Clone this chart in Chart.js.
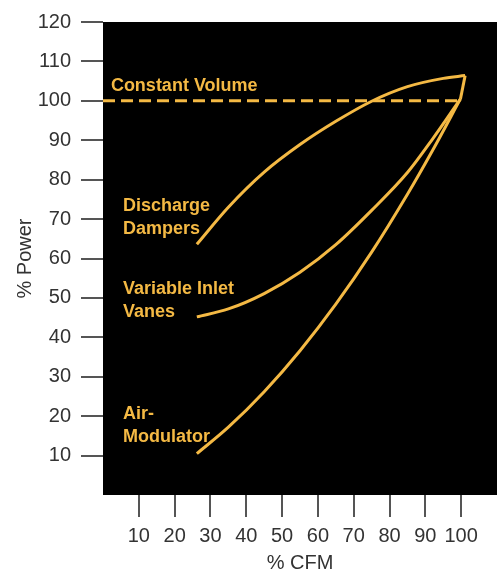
<!DOCTYPE html>
<html>
<head>
<meta charset="utf-8">
<script src="https://cdn.jsdelivr.net/npm/chart.js@4/dist/chart.umd.min.js"></script>
<style>
  html, body { margin: 0; padding: 0; background: #fff; }
  #wrap { width: 503px; height: 573px; }
</style>
</head>
<body>
<div id="wrap"><canvas id="chart" width="503" height="573"></canvas></div>
<script>
// Axis ticks
const cfmTicks = [10, 20, 30, 40, 50, 60, 70, 80, 90, 100];
const powerTicks = [10, 20, 30, 40, 50, 60, 70, 80, 90, 100, 110, 120];

// Constant volume (dashed)
const constantCfm = [0, 100.5];
const constantPower = [100, 100];

// Discharge dampers (curve, then short drop to the meeting point)
const dischargeCfm = [26.2, 35, 45, 55, 65, 75, 85, 95, 101.1];
const dischargePower = [63.6, 73.0, 81.9, 88.9, 94.8, 99.9, 103.6, 105.7, 106.4];
const dischargeDropCfm = [101.1, 99.8];
const dischargeDropPower = [106.4, 100.5];

// Variable inlet vanes
const vanesCfm = [26.2, 35, 45, 55, 65, 75, 85, 92, 99.8];
const vanesPower = [45.2, 47.2, 51.1, 56.5, 63.5, 72.2, 81.8, 90.3, 100.5];

// Air-modulator
const airCfm = [26.2, 35, 45, 55, 65, 75, 85, 92, 99.8];
const airPower = [10.5, 17.2, 26.2, 36.6, 48.4, 61.6, 76.3, 87.4, 100.5];

const gold = "#F4B944";
const toPts = (xs, ys) => xs.map((x, i) => ({ x: x, y: ys[i] }));

// Curve labels: left edge / first baseline in data units
const curveLabels = [
  { lines: ["Constant Volume"], x: 2.2, y: 102.4 },
  { lines: ["Discharge", "Dampers"], x: 5.6, y: 72.1 },
  { lines: ["Variable Inlet", "Vanes"], x: 5.6, y: 51.0 },
  { lines: ["Air-", "Modulator"], x: 5.6, y: 19.3 },
];

const blackArea = {
  id: "blackArea",
  beforeDatasetsDraw(chart) {
    const { ctx, chartArea: a } = chart;
    ctx.save();
    ctx.fillStyle = "#000";
    ctx.fillRect(a.left, a.top, a.right - a.left, a.bottom - a.top);
    ctx.restore();
  },
};

const labelPlugin = {
  id: "curveLabels",
  afterDatasetsDraw(chart) {
    const { ctx, scales } = chart;
    ctx.save();
    ctx.fillStyle = gold;
    ctx.font = "bold 18px 'Liberation Sans', Arial, sans-serif";
    ctx.textBaseline = "alphabetic";
    ctx.textAlign = "left";
    curveLabels.forEach((l) => {
      const px = scales.x.getPixelForValue(l.x);
      const py = scales.y.getPixelForValue(l.y);
      l.lines.forEach((t, i) => ctx.fillText(t, px, py + i * 23));
    });
    ctx.restore();
  },
};

const lineStyle = {
  showLine: true,
  borderColor: gold,
  borderWidth: 3,
  pointRadius: 0,
  fill: false,
  cubicInterpolationMode: "monotone",
};

new Chart(document.getElementById("chart"), {
  type: "scatter",
  data: {
    datasets: [
      { ...lineStyle, label: "Constant Volume", data: toPts(constantCfm, constantPower), cubicInterpolationMode: "default", tension: 0, borderDash: [12, 6] },
      { ...lineStyle, label: "Discharge Dampers", data: toPts(dischargeCfm, dischargePower) },
      { ...lineStyle, label: "Discharge Dampers drop", data: toPts(dischargeDropCfm, dischargeDropPower), cubicInterpolationMode: "default", tension: 0 },
      { ...lineStyle, label: "Variable Inlet Vanes", data: toPts(vanesCfm, vanesPower) },
      { ...lineStyle, label: "Air-Modulator", data: toPts(airCfm, airPower) },
    ],
  },
  options: {
    responsive: false,
    animation: false,
    layout: { padding: { top: 17, right: 6, left: 0, bottom: 0 } },
    plugins: { legend: { display: false }, tooltip: { enabled: false } },
    scales: {
      x: {
        type: "linear",
        min: 0,
        max: 110,
        afterBuildTicks: (s) => { s.ticks = cfmTicks.map((v) => ({ value: v })); },
        afterFit: (s) => { s.height = 78; },
        ticks: {
          color: "#333",
          padding: 7,
          maxRotation: 0,
          autoSkip: false,
          font: { family: "'Liberation Sans', Arial, sans-serif", size: 20 },
        },
        grid: { drawOnChartArea: false, tickLength: 22, color: "#555", lineWidth: 2 },
        border: { display: false },
        title: {
          display: true,
          text: "% CFM",
          color: "#333",
          padding: 0,
          font: { family: "'Liberation Sans', Arial, sans-serif", size: 20, lineHeight: 1 },
        },
      },
      y: {
        type: "linear",
        min: 0,
        max: 120,
        afterBuildTicks: (s) => { s.ticks = powerTicks.map((v) => ({ value: v })); },
        afterFit: (s) => { s.width = 103; },
        ticks: {
          color: "#333",
          padding: 10,
          autoSkip: false,
          font: { family: "'Liberation Sans', Arial, sans-serif", size: 20 },
        },
        grid: { drawOnChartArea: false, tickLength: 22, color: "#555", lineWidth: 2 },
        border: { display: false },
        title: {
          display: true,
          text: "% Power",
          color: "#333",
          padding: { top: 13 },
          font: { family: "'Liberation Sans', Arial, sans-serif", size: 20 },
        },
      },
    },
  },
  plugins: [blackArea, labelPlugin],
});
</script>
</body>
</html>
